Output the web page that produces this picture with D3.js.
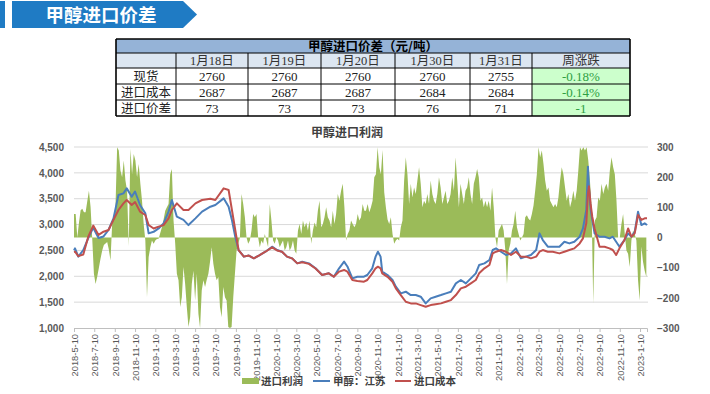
<!DOCTYPE html>
<html><head><meta charset="utf-8">
<script src="https://cdn.jsdelivr.net/npm/d3@7"></script>
<style>body{margin:0;background:#fff;}svg{display:block;}</style>
</head><body>
<svg id="c" width="710" height="394"></svg>
<script>
// ---------------- DATA ----------------
const pageTitle = "甲醇进口价差";
const tableTitle = "甲醇进口价差（元/吨）";
const tableDates = ["1月18日","1月19日","1月20日","1月30日","1月31日"];
const changeHeader = "周涨跌";
const rowNames = ["现货","进口成本","进口价差"];
const spotRow = [2760,2760,2760,2760,2755];
const costRow = [2687,2687,2687,2684,2684];
const spreadRow = [73,73,73,76,71];
const weeklyChange = ["-0.18%","-0.14%","-1"];

const chartTitle = "甲醇进口利润";
const seriesNames = ["进口利润","甲醇：江苏","进口成本"];
const leftTicks = [1000,1500,2000,2500,3000,3500,4000,4500];
const rightTicks = [-300,-200,-100,0,100,200,300];
const xTickLabels = ["2018-5-10","2018-7-10","2018-9-10","2018-11-10","2019-1-10","2019-3-10","2019-5-10","2019-7-10","2019-9-10","2019-11-10","2020-1-10","2020-3-10","2020-5-10","2020-7-10","2020-9-10","2020-11-10","2021-1-10","2021-3-10","2021-5-10","2021-7-10","2021-9-10","2021-11-10","2022-1-10","2022-3-10","2022-5-10","2022-7-10","2022-9-10","2022-11-10","2023-1-10"];
const axisStart = "2018-5-10";
const axisEnd = "2023-1-31";

// import profit (right axis), one reading every 5 days from 2018-5-10
const profitStart = "2018-5-10";
const profitStepDays = 5;
const profit = [
78,78,0,50,90,95,84,84,120,155,100,-5,-120,-154,-130,-100,-70,-43,-25,-20,
-15,-40,-76,45,67,100,299,288,222,200,255,189,155,-30,294,210,277,255,200,244,
178,122,45,-10,-198,-65,-32,-10,-21,-10,-5,-4,15,34,60,89,100,111,210,227,
56,-20,-120,-142,-230,-198,-98,-154,-230,-297,-264,-154,-110,-209,-120,-253,-300,-176,-142,-164,
-140,-120,-80,-32,-87,-120,-142,-131,-230,-264,-164,-198,-209,-297,-300,-297,-198,-120,-43,-21,
0,144,111,67,0,-21,-10,23,78,67,78,0,-32,-10,-21,12,-10,-32,111,56,
-10,-21,0,-10,-32,-21,-10,-43,-32,-10,-43,-32,-10,-43,-54,23,45,12,56,34,
50,23,56,-21,23,50,34,89,122,34,45,67,100,67,56,34,89,45,78,144,
122,155,178,100,-10,12,23,56,45,34,45,78,56,67,111,89,89,111,84,100,
122,200,210,299,233,210,290,150,100,60,45,67,12,-21,-10,-4,-10,34,56,189,
266,210,111,178,133,166,144,189,233,178,100,122,111,144,111,189,144,122,111,144,
200,166,111,133,155,111,122,144,200,155,266,189,100,178,144,111,155,166,200,144,
111,178,200,227,200,122,133,100,122,100,122,89,166,100,0,-32,23,34,45,23,
-43,-154,-43,-21,23,45,89,34,12,-10,0,12,67,74,62,56,78,106,155,210,
299,266,288,244,189,155,166,122,111,100,111,100,133,189,233,210,166,122,144,100,
122,155,122,155,222,299,288,299,288,299,255,189,100,-220,56,67,133,122,178,144,
166,178,155,222,266,233,210,122,0,0,45,78,12,-43,-54,-98,-10,23,12,-10,
-142,-209,-30,-80,-110,-131
];

// 甲醇：江苏 spot price and import cost (left axis)
const lineDates = ["2018-5-10","2018-5-13","2018-5-23","2018-6-7","2018-6-22","2018-7-7","2018-7-23","2018-8-7","2018-8-22","2018-9-6","2018-9-21","2018-10-6","2018-10-16","2018-10-31","2018-11-10","2018-11-25","2018-12-11","2018-12-21","2019-1-5","2019-1-20","2019-2-4","2019-2-19","2019-3-1","2019-3-16","2019-4-5","2019-4-20","2019-5-11","2019-5-31","2019-6-25","2019-7-10","2019-8-4","2019-8-19","2019-8-29","2019-9-8","2019-9-18","2019-10-4","2019-10-19","2019-11-3","2019-11-18","2019-12-8","2019-12-28","2020-1-12","2020-1-27","2020-2-11","2020-2-26","2020-3-13","2020-3-28","2020-4-17","2020-5-7","2020-5-27","2020-6-16","2020-7-1","2020-7-17","2020-8-1","2020-8-11","2020-8-26","2020-9-10","2020-9-30","2020-10-10","2020-10-25","2020-11-4","2020-11-11","2020-11-19","2020-11-24","2020-12-10","2020-12-25","2021-1-4","2021-1-19","2021-2-3","2021-2-18","2021-3-5","2021-3-20","2021-4-4","2021-4-19","2021-5-4","2021-5-20","2021-6-4","2021-6-19","2021-7-4","2021-7-19","2021-8-3","2021-8-18","2021-9-2","2021-9-12","2021-9-28","2021-10-13","2021-10-23","2021-11-2","2021-11-17","2021-12-2","2021-12-17","2022-1-1","2022-1-16","2022-1-31","2022-2-15","2022-3-3","2022-3-13","2022-3-23","2022-4-7","2022-4-22","2022-5-12","2022-5-27","2022-6-11","2022-6-26","2022-7-12","2022-7-22","2022-8-1","2022-8-6","2022-8-9","2022-8-14","2022-8-19","2022-8-26","2022-9-10","2022-9-25","2022-10-10","2022-10-20","2022-10-30","2022-11-9","2022-11-24","2022-12-5","2022-12-15","2022-12-25","2023-1-4","2023-1-14","2023-1-24","2023-1-31"];
const spotJiangsu = [2500,2540,2380,2508,2740,2940,2740,2770,2895,3120,3572,3604,3700,3540,3640,3378,3217,2830,2860,2925,3024,3250,3475,3152,3090,2990,3120,3250,3345,3378,3507,3345,3088,2765,2508,2380,2400,2347,2400,2475,2572,2508,2475,2380,2347,2250,2283,2250,2154,2025,2057,1990,2154,2283,2190,1960,1990,1992,2025,2154,2380,2475,2380,2090,2025,1928,1799,1670,1702,1637,1637,1605,1476,1573,1605,1637,1670,1702,1863,1928,1863,1960,2057,2218,2250,2315,2508,2540,2475,2411,2443,2540,2347,2380,2411,2508,2830,2701,2572,2572,2572,2669,2636,2669,2765,2925,3282,4120,3700,3300,3088,2830,2765,2765,2733,2765,2669,2572,2701,2830,2765,2860,3250,2990,3024,2992];
const importCost = [2470,2475,2390,2420,2765,2980,2800,2862,2895,3090,3282,3410,3475,3380,3435,3250,3185,2992,2925,2960,2990,3120,3282,3410,3282,3282,3410,3475,3500,3475,3700,3668,3282,2895,2508,2380,2400,2347,2400,2475,2560,2500,2475,2380,2347,2250,2270,2240,2150,2025,2057,1990,2090,2122,2090,1928,1910,1895,1928,2057,2154,2186,2154,2057,1990,1895,1766,1637,1508,1476,1476,1443,1411,1443,1460,1476,1508,1540,1637,1766,1799,1863,1928,2057,2154,2218,2443,2475,2508,2475,2411,2475,2380,2380,2347,2380,2475,2508,2475,2475,2443,2475,2508,2540,2636,2733,3024,3600,3740,3400,3152,2925,2572,2572,2540,2508,2411,2540,2701,2925,2765,2830,3185,3090,3120,3120];

// ---------------- DRAW ----------------
const svg = d3.select("#c");
const pd = s => { const p = s.split("-").map(Number); return new Date(p[0], p[1]-1, p[2]); };
const CJK = "'Noto Sans CJK SC','Noto Sans',sans-serif";
const SANS = "'Liberation Sans','Noto Sans CJK SC',Arial,sans-serif";
const SERIF = "'Liberation Serif','Noto Sans CJK SC',serif";

// Banner
svg.append("rect").attr("x",0).attr("y",1).attr("width",5).attr("height",27).attr("fill","#1f7bc4");
svg.append("path").attr("d","M12,1L183,1L197,14.5L183,28L12,28Z").attr("fill","#1f7bc4");
svg.append("text").attr("x",101).attr("y",21.5).attr("text-anchor","middle")
  .attr("font-family",CJK).attr("font-weight","bold").attr("font-size",18.5).attr("fill","#fff").text(pageTitle);

// Table
const colX = [116,176,248,321,395,470,532,630];
const rowY = [39,53,68,84,100,116];
const tb = svg.append("g");
tb.append("rect").attr("x",colX[0]).attr("y",rowY[0]).attr("width",colX[7]-colX[0]).attr("height",rowY[1]-rowY[0]).attr("fill","#95b3d7");
tb.append("rect").attr("x",colX[0]).attr("y",rowY[1]).attr("width",colX[7]-colX[0]).attr("height",rowY[2]-rowY[1]).attr("fill","#dce6f1");
tb.selectAll("rect.g").data(weeklyChange).enter().append("rect")
  .attr("x",colX[6]).attr("y",(d,i)=>rowY[2+i]).attr("width",colX[7]-colX[6]).attr("height",(d,i)=>rowY[3+i]-rowY[2+i]).attr("fill","#ccffcc");
// borders
rowY.forEach((y,i)=>{ tb.append("line").attr("x1",colX[0]).attr("x2",colX[7]).attr("y1",y).attr("y2",y)
  .attr("stroke","#000").attr("stroke-width",(i===0||i===rowY.length-1)?1.6:1); });
colX.forEach((x,i)=>{ tb.append("line").attr("x1",x).attr("x2",x).attr("y1",(i===0||i===colX.length-1)?rowY[0]:rowY[1]).attr("y2",rowY[5])
  .attr("stroke","#000").attr("stroke-width",(i===0||i===colX.length-1)?1.6:1); });
tb.append("text").attr("x",(colX[0]+colX[7])/2).attr("y",rowY[0]+11.5).attr("text-anchor","middle")
  .attr("font-family",CJK).attr("font-weight","bold").attr("font-size",12.5).attr("fill","#000").text(tableTitle);
const headers = tableDates.concat([changeHeader]);
headers.forEach((h,i)=>{ tb.append("text").attr("x",(colX[i+1]+colX[i+2])/2).attr("y",rowY[1]+12)
  .attr("text-anchor","middle").attr("font-family",SERIF).attr("font-size",12.5).attr("fill","#333").text(h); });
const rows = [spotRow,costRow,spreadRow];
rows.forEach((r,ri)=>{
  const yb = rowY[2+ri]+12.5;
  tb.append("text").attr("x",(colX[0]+colX[1])/2).attr("y",yb).attr("text-anchor","middle")
    .attr("font-family",SERIF).attr("font-size",12.5).attr("fill","#222").text(rowNames[ri]);
  r.forEach((v,ci)=>{ tb.append("text").attr("x",(colX[ci+1]+colX[ci+2])/2).attr("y",yb).attr("text-anchor","middle")
    .attr("font-family",SERIF).attr("font-size",13).attr("fill","#222").text(v); });
  tb.append("text").attr("x",(colX[6]+colX[7])/2).attr("y",yb).attr("text-anchor","middle")
    .attr("font-family",SERIF).attr("font-size",13).attr("fill","#2ea043").text(weeklyChange[ri]);
});

// Chart
const L = 74, R = 647, T = 147, B = 328;
const x = d3.scaleTime().domain([pd(axisStart), pd(axisEnd)]).range([L, R]);
const yL = d3.scaleLinear().domain([1000,4500]).range([B,T]);
const yR = d3.scaleLinear().domain([-300,300]).range([B,T]).clamp(true);

svg.append("text").attr("x",347).attr("y",137).attr("text-anchor","middle")
  .attr("font-family",CJK).attr("font-weight","bold").attr("font-size",12).attr("fill","#404040").text(chartTitle);

// gridlines
svg.append("g").selectAll("line").data(leftTicks.slice(1)).enter().append("line")
  .attr("x1",L).attr("x2",R+1).attr("y1",d=>yL(d)).attr("y2",d=>yL(d)).attr("stroke","#d9d9d9").attr("stroke-width",1);

// profit area
const p0 = pd(profitStart);
const profitPts = profit.map((v,i)=>({d:d3.timeDay.offset(p0, i*profitStepDays), v}));
const area = d3.area().x(d=>x(d.d)).y0(yR(0)).y1(d=>yR(d.v));
svg.append("path").datum(profitPts).attr("d",area).attr("fill","#9bbb59");

// lines
const linePts = (arr)=>arr.map((v,i)=>({d:pd(lineDates[i]), v}));
const line = d3.line().x(d=>x(d.d)).y(d=>yL(d.v));
svg.append("path").datum(linePts(spotJiangsu)).attr("d",line).attr("fill","none").attr("stroke","#4a7ebb").attr("stroke-width",2).attr("stroke-linejoin","round");
svg.append("path").datum(linePts(importCost)).attr("d",line).attr("fill","none").attr("stroke","#c0504d").attr("stroke-width",2).attr("stroke-linejoin","round");

// axes
const xTicks = xTickLabels.map(pd);
const gx = svg.append("g").attr("transform",`translate(0,${B})`)
  .call(d3.axisBottom(x).tickValues(xTicks).tickFormat((d,i)=>xTickLabels[i]).tickSizeOuter(0).tickSize(4));
gx.select(".domain").attr("stroke","#bfbfbf");
gx.selectAll(".tick line").attr("stroke","#bfbfbf");
gx.selectAll(".tick text").attr("transform","rotate(-90)").attr("text-anchor","end")
  .attr("x",-6).attr("y",0).attr("dy","0.35em").attr("font-family",SANS).attr("font-size",9.3).attr("fill","#595959");

const gl = svg.append("g").attr("transform",`translate(${L},0)`)
  .call(d3.axisLeft(yL).tickValues(leftTicks).tickFormat(d3.format(",")).tickSize(0).tickPadding(10));
gl.select(".domain").remove();
gl.selectAll("text").attr("font-family",SANS).attr("font-weight","bold").attr("font-size",10).attr("fill","#595959");

const gr = svg.append("g").attr("transform",`translate(${R+1},0)`)
  .call(d3.axisRight(yR).tickValues(rightTicks).tickSize(0).tickPadding(9));
gr.select(".domain").remove();
gr.selectAll("text").attr("font-family",SANS).attr("font-weight","bold").attr("font-size",10).attr("fill","#595959");

// legend
const lg = svg.append("g").attr("font-family",CJK).attr("font-weight","bold").attr("font-size",10.5).attr("fill","#404040");
lg.append("rect").attr("x",242).attr("y",378).attr("width",17).attr("height",6).attr("fill","#9bbb59");
lg.append("text").attr("x",261).attr("y",385).text(seriesNames[0]);
lg.append("line").attr("x1",313).attr("x2",330).attr("y1",381).attr("y2",381).attr("stroke","#4a7ebb").attr("stroke-width",2);
lg.append("text").attr("x",333).attr("y",385).text(seriesNames[1]);
lg.append("line").attr("x1",395).attr("x2",411).attr("y1",381).attr("y2",381).attr("stroke","#c0504d").attr("stroke-width",2);
lg.append("text").attr("x",414).attr("y",385).text(seriesNames[2]);
</script>
</body></html>
